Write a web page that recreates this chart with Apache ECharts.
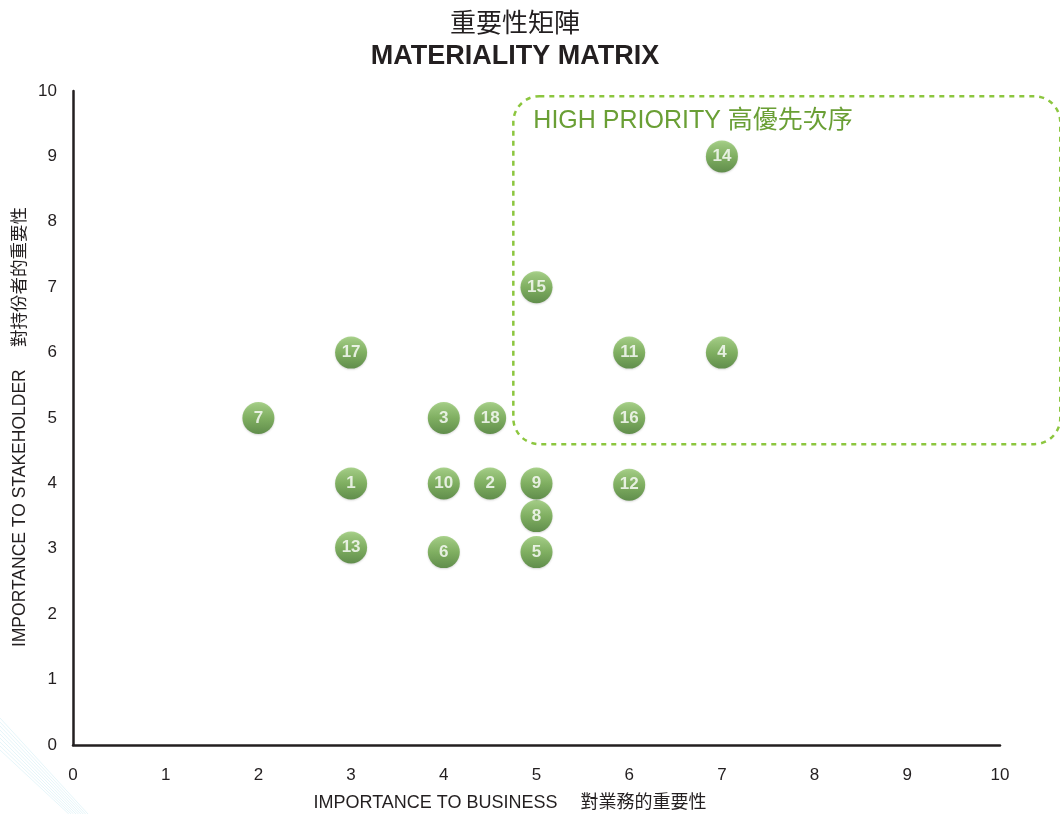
<!DOCTYPE html>
<html>
<head>
<meta charset="utf-8">
<script src="https://cdn.jsdelivr.net/npm/echarts@6/dist/echarts.min.js"></script>
<style>
  html, body { margin: 0; padding: 0; background: #fff; }
  #matrix { width: 1060px; height: 814px; }
</style>
</head>
<body>
<div id="matrix"></div>
<script>
// 議題編號與座標
var topicIds = [1, 2, 3, 4, 5, 6, 7, 8, 9, 10, 11, 12, 13, 14, 15, 16, 17, 18];
var businessScore = [3, 4.5, 4, 7, 5, 4, 2, 5, 5, 4, 6, 6, 3, 7, 5, 6, 3, 4.5];
var stakeholderScore = [4, 4, 5, 6, 2.95, 2.95, 5, 3.5, 4, 4, 6, 3.98, 3.02, 9, 7, 5, 6, 5];
var axisTicks = [0, 1, 2, 3, 4, 5, 6, 7, 8, 9, 10];
// 高優先區域 (data units)
var priorityBox = { x0: 4.75, x1: 10.65, y0: 4.6, y1: 9.92 };

var font = '"Liberation Sans", "Noto Sans CJK TC", sans-serif';
var ink = '#231f20';

var points = topicIds.map(function (id, i) {
    return { name: String(id), value: [businessScore[i], stakeholderScore[i]] };
});

var chart = echarts.init(document.getElementById('matrix'));

var option = {
    backgroundColor: '#fff',
    title: [
        {
            text: '重要性矩陣',
            left: 510, top: 7, textAlign: 'center',
            textStyle: { fontFamily: font, fontSize: 26, fontWeight: 'normal', color: ink }
        },
        {
            text: 'MATERIALITY MATRIX',
            left: 510, top: 38, textAlign: 'center',
            textStyle: { fontFamily: font, fontSize: 27, fontWeight: 'bold', color: ink }
        }
    ],
    grid: { left: 73, right: 60, top: 91, bottom: 69 },
    xAxis: {
        type: 'value', min: 0, max: 10, interval: 1,
        axisLine: { lineStyle: { color: ink, width: 2.5 } },
        axisTick: { show: false },
        splitLine: { show: false },
        axisLabel: {
            margin: 22, fontFamily: font, fontSize: 17, color: ink,
            formatter: function (v) { return axisTicks.indexOf(v) >= 0 ? String(v) : ''; }
        }
    },
    yAxis: {
        type: 'value', min: 0, max: 10, interval: 1,
        axisLine: { show: true, lineStyle: { color: ink, width: 2.5 } },
        axisTick: { show: false },
        splitLine: { show: false },
        axisLabel: {
            margin: 16, fontFamily: font, fontSize: 17, color: ink,
            formatter: function (v) { return axisTicks.indexOf(v) >= 0 ? String(v) : ''; }
        }
    },
    series: [{
        type: 'scatter',
        symbolSize: 32,
        data: points,
        z: 5,
        itemStyle: {
            color: new echarts.graphic.LinearGradient(0, 0, 0, 1, [
                { offset: 0, color: '#97ca72' },
                { offset: 0.5, color: '#6aa544' },
                { offset: 1, color: '#437b29' }
            ]),
            shadowColor: 'rgba(0,0,0,0.2)', shadowBlur: 2, shadowOffsetY: 1
        },
        label: {
            show: true, position: 'inside',
            formatter: '{b}',
            fontFamily: font, fontSize: 17, fontWeight: 'bold', color: '#fff'
        },
        emphasis: { disabled: true }
    }]
};

chart.setOption(option);

// 左下角淡藍斜線
var stripes = [];
for (var k = 0; k < 9; k++) {
    var off = k * 4;
    stripes.push({
        type: 'line', z: 0, silent: true,
        shape: { x1: 0, y1: 718 + off, x2: 88 - off * 0.6, y2: 814 },
        style: { stroke: '#e2f4f8', lineWidth: 1, opacity: 0.9 }
    });
}

// 虛線框及標題，位置由座標換算
var p0 = chart.convertToPixel({ gridIndex: 0 }, [priorityBox.x0, priorityBox.y1]);
var p1 = chart.convertToPixel({ gridIndex: 0 }, [priorityBox.x1, priorityBox.y0]);
chart.setOption({
    graphic: stripes.concat([
        {
            type: 'rect', z: 1,
            shape: { x: p0[0], y: p0[1], width: p1[0] - p0[0], height: p1[1] - p0[1], r: 26 },
            style: { fill: 'none', stroke: '#8cc63f', lineWidth: 2.5, lineDash: [5, 5] }
        },
        {
            type: 'text', z: 2,
            x: p0[0] + 20, y: p0[1] + 25,
            style: {
                text: 'HIGH PRIORITY 高優先次序',
                font: '25px "Liberation Sans", "Noto Sans CJK TC", sans-serif',
                fill: '#6a9f35', textVerticalAlign: 'middle'
            }
        },
        {
            type: 'text', z: 2,
            x: 510, y: 803,
            style: {
                text: 'IMPORTANCE TO BUSINESS　 對業務的重要性',
                font: '18px "Liberation Sans", "Noto Sans CJK TC", sans-serif',
                fill: ink, textAlign: 'center', textVerticalAlign: 'middle'
            }
        },
        {
            type: 'text', z: 2,
            x: 20, y: 427, rotation: Math.PI / 2,
            style: {
                text: 'IMPORTANCE TO STAKEHOLDER　 對持份者的重要性',
                font: '17.5px "Liberation Sans", "Noto Sans CJK TC", sans-serif',
                fill: ink, textAlign: 'center', textVerticalAlign: 'middle'
            }
        }
    ])
});

window.onresize = function () {
    chart.resize();
};
</script>
</body>
</html>
